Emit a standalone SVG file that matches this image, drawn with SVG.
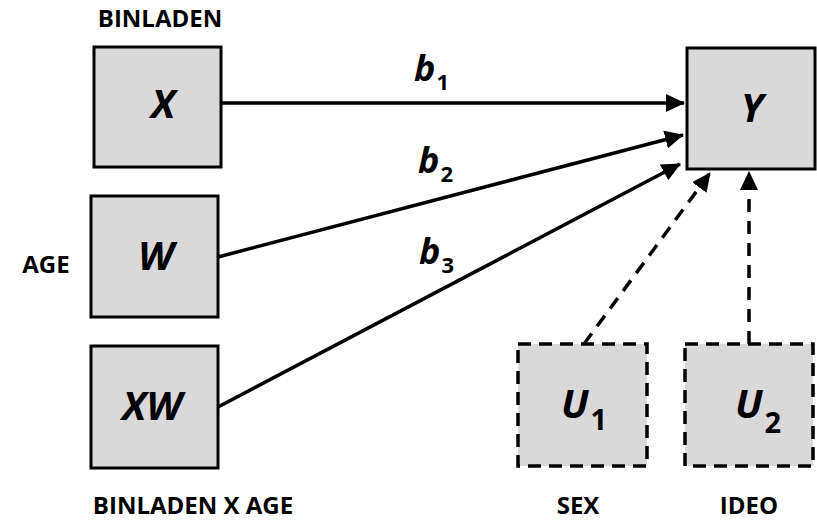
<svg xmlns="http://www.w3.org/2000/svg" width="817" height="521" viewBox="0 0 817 521">
<style>
.box{fill:#d9d9d9;stroke:#000;stroke-width:3}
.dbox{fill:#d9d9d9;stroke:#000;stroke-width:3.5;stroke-dasharray:13,8}
.var{font-family:"Open Sans","Noto Sans",sans-serif;font-weight:bold;font-style:italic;font-size:40px;text-anchor:middle}
.lab{font-family:"Open Sans","Noto Sans",sans-serif;font-weight:bold;font-size:24px;text-anchor:middle}
.coef{font-family:"Open Sans","Noto Sans",sans-serif;font-weight:bold;font-style:italic;font-size:36px}
.sub{font-style:normal;font-size:22px}
.usub{font-style:normal;font-size:29px}
.line{stroke:#000;stroke-width:3.5;fill:none}
.dash{stroke-dasharray:13,9}
</style>
<defs>
<marker id="ah" markerUnits="userSpaceOnUse" markerWidth="20" markerHeight="20" viewBox="0 0 20 20" refX="18" refY="10" orient="auto">
<path d="M0,1 L19,10 L0,19 Z" fill="#000"/>
</marker>
</defs>
<g id="connectors">
<line class="line" x1="221" y1="103" x2="684" y2="103" marker-end="url(#ah)"/>
<line class="line" x1="218" y1="257" x2="683" y2="135" marker-end="url(#ah)"/>
<line class="line" x1="218" y1="407" x2="680" y2="164" marker-end="url(#ah)"/>
<line class="line dash" x1="584" y1="344" x2="710" y2="173" marker-end="url(#ah)"/>
<line class="line dash" x1="749" y1="344" x2="749" y2="172" marker-end="url(#ah)"/>
<text class="coef" x="414" y="81">b<tspan class="sub" dx="1" dy="9">1</tspan></text>
<text class="coef" x="418" y="173">b<tspan class="sub" dx="1" dy="9">2</tspan></text>
<text class="coef" x="419" y="264">b<tspan class="sub" dx="1" dy="9">3</tspan></text>
</g>
<g id="node-x">
<rect class="box" x="94" y="47" width="127" height="120"/>
<text class="var" x="163" y="118">X</text>
<text class="lab" x="160" y="27">BINLADEN</text>
</g>
<g id="node-w">
<rect class="box" x="91" y="196" width="127" height="121"/>
<text class="var" x="156" y="270">W</text>
<text class="lab" x="46" y="273">AGE</text>
</g>
<g id="node-xw">
<rect class="box" x="91" y="346" width="127" height="122"/>
<text class="var" x="152" y="420">XW</text>
<text class="lab" x="193" y="514">BINLADEN X AGE</text>
</g>
<g id="node-y">
<rect class="box" x="687" y="48" width="128" height="121"/>
<text class="var" x="752" y="122">Y</text>
</g>
<g id="node-u1">
<rect class="dbox" x="518" y="344" width="129" height="122"/>
<text class="var" x="584" y="418">U<tspan class="usub" dx="2" dy="12">1</tspan></text>
<text class="lab" x="578" y="514">SEX</text>
</g>
<g id="node-u2">
<rect class="dbox" x="685" y="344" width="128" height="122"/>
<text class="var" x="758" y="418">U<tspan class="usub" dx="2" dy="15">2</tspan></text>
<text class="lab" x="749" y="514">IDEO</text>
</g>
</svg>
